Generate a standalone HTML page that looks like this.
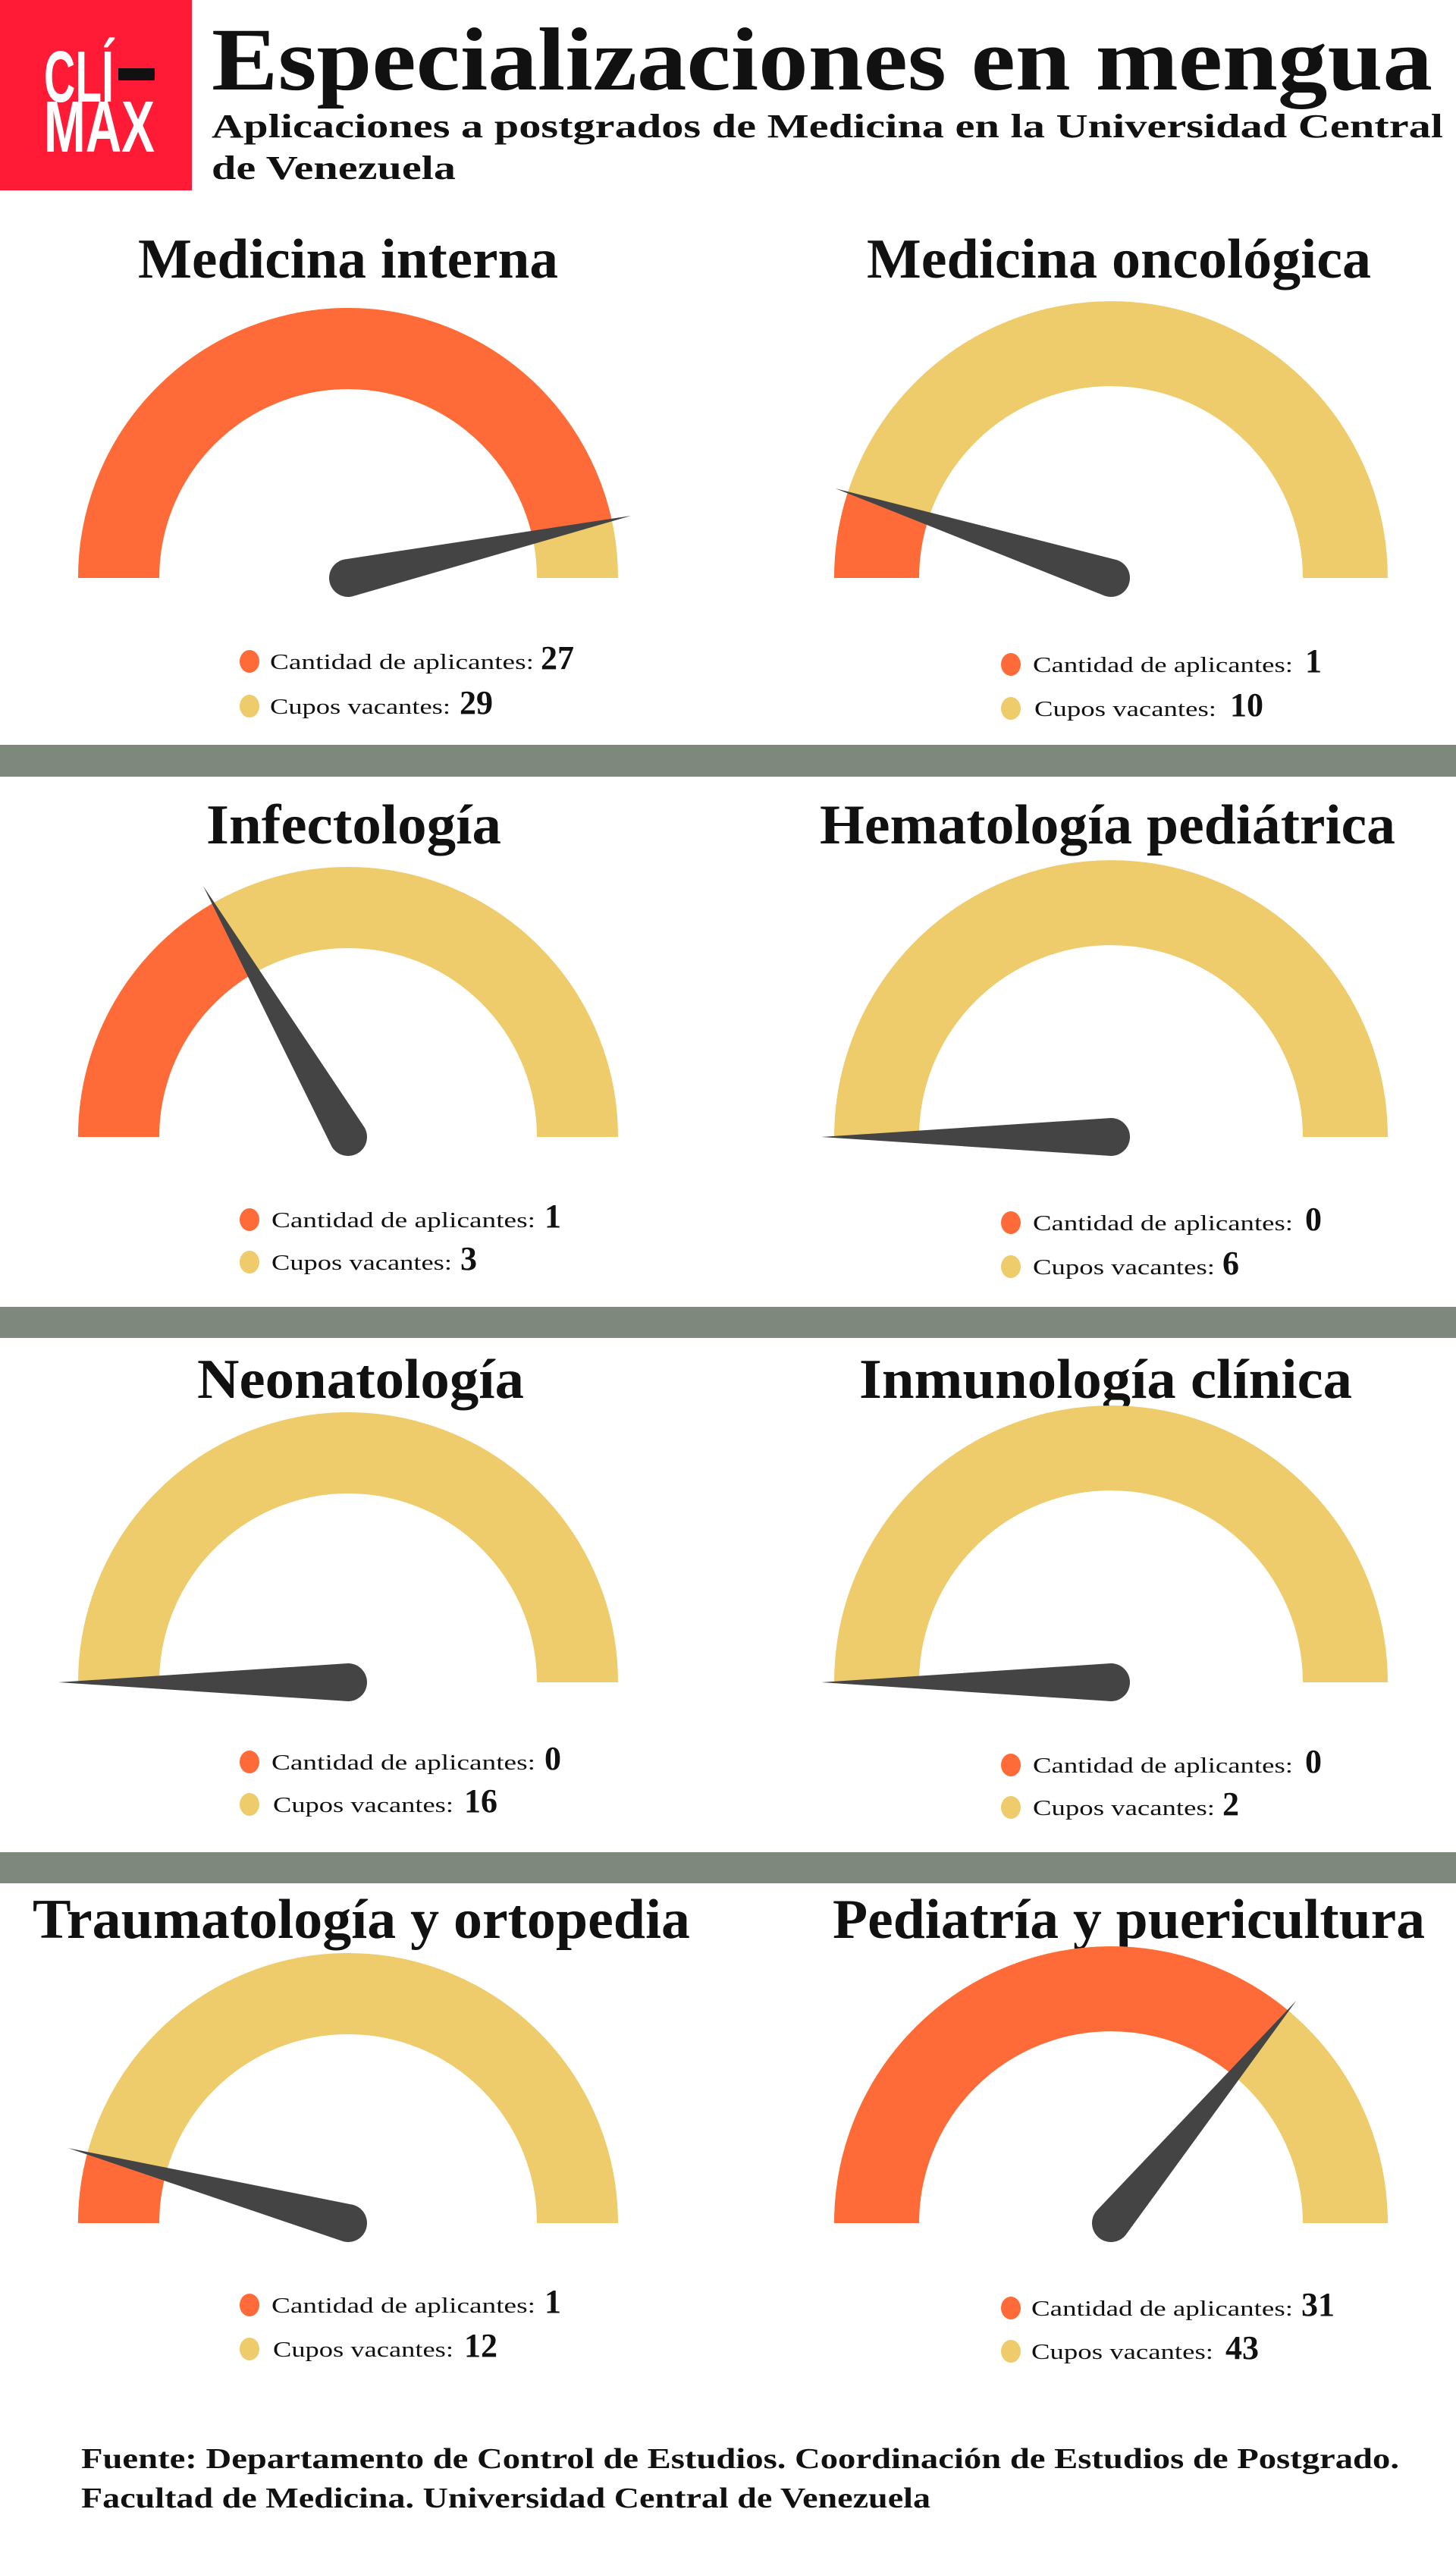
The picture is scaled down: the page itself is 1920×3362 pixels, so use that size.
<!DOCTYPE html>
<html><head><meta charset="utf-8"><style>
html,body{margin:0;padding:0;background:#fff;}
svg{display:block;}
text{font-family:"Liberation Serif",serif;fill:#111;}
.t{font-weight:bold;font-size:74px;}
.l{font-size:29px;}
.v{font-weight:bold;font-size:44px;}
</style></head><body>
<svg width="1920" height="3362" viewBox="0 0 1920 3362" xmlns="http://www.w3.org/2000/svg">
<rect width="1920" height="3362" fill="#fff"/>
<!-- logo -->
<rect x="0" y="0" width="253" height="251" fill="#FF1A35"/>
<text x="58" y="134" style="font-family:'Liberation Sans Narrow','Liberation Sans',sans-serif;font-weight:bold;font-size:96px;fill:#fff" textLength="92" lengthAdjust="spacingAndGlyphs">CLÍ</text>
<rect x="156" y="90" width="48" height="16" fill="#111"/>
<text x="58" y="200" style="font-family:'Liberation Sans Narrow','Liberation Sans',sans-serif;font-weight:bold;font-size:96px;fill:#fff" textLength="146" lengthAdjust="spacingAndGlyphs">MAX</text>
<!-- titles -->
<text x="279" y="118" style="font-weight:bold;font-size:118px" textLength="1610" lengthAdjust="spacingAndGlyphs">Especializaciones en mengua</text>
<text x="279" y="181" style="font-weight:bold;font-size:44px" textLength="1624" lengthAdjust="spacingAndGlyphs">Aplicaciones a postgrados de Medicina en la Universidad Central</text>
<text x="279" y="236" style="font-weight:bold;font-size:44px" textLength="322" lengthAdjust="spacingAndGlyphs">de Venezuela</text>
<!-- separators -->
<rect x="0" y="982" width="1920" height="42" fill="#7f887c"/>
<rect x="0" y="1723" width="1920" height="41" fill="#7f887c"/>
<rect x="0" y="2442" width="1920" height="41" fill="#7f887c"/>

<defs>
<path id="nd" d="M -382 0 L 0 -25 A 25 25 0 1 1 0 25 Z" fill="#444"/>
</defs>

<!-- Row 1 -->
<text class="t" x="182" y="366" textLength="554" lengthAdjust="spacingAndGlyphs">Medicina interna</text>
<path d="M 156.5 762 A 302.5 302.5 0 0 1 761.5 762" fill="none" stroke="#EECB6B" stroke-width="107"/>
<path d="M 156.5 762 A 302.5 302.5 0 0 1 761.5 762" fill="none" stroke="#FF6B38" stroke-width="107" pathLength="100" stroke-dasharray="93.1 1000"/>
<use href="#nd" transform="translate(459 762) rotate(167.6)"/>

<text class="t" x="1143" y="366" textLength="665" lengthAdjust="spacingAndGlyphs">Medicina oncológica</text>
<path d="M 1156 762 A 309 309 0 0 1 1774 762" fill="none" stroke="#EECB6B" stroke-width="112"/>
<path d="M 1156 762 A 309 309 0 0 1 1774 762" fill="none" stroke="#FF6B38" stroke-width="112" pathLength="100" stroke-dasharray="10 1000"/>
<use href="#nd" transform="translate(1465 762) rotate(18)"/>

<!-- Row 2 -->
<text class="t" x="272" y="1112" textLength="389" lengthAdjust="spacingAndGlyphs">Infectología</text>
<path d="M 156.5 1499 A 302.5 302.5 0 0 1 761.5 1499" fill="none" stroke="#EECB6B" stroke-width="107"/>
<path d="M 156.5 1499 A 302.5 302.5 0 0 1 761.5 1499" fill="none" stroke="#FF6B38" stroke-width="107" pathLength="100" stroke-dasharray="33.3 1000"/>
<use href="#nd" transform="translate(459 1499) rotate(60)"/>

<text class="t" x="1081" y="1112" textLength="759" lengthAdjust="spacingAndGlyphs">Hematología pediátrica</text>
<path d="M 1156 1499 A 309 309 0 0 1 1774 1499" fill="none" stroke="#EECB6B" stroke-width="112"/>
<use href="#nd" transform="translate(1465 1499) rotate(0)"/>

<!-- Row 3 -->
<text class="t" x="260" y="1843" textLength="431" lengthAdjust="spacingAndGlyphs">Neonatología</text>
<path d="M 156.5 2218 A 302.5 302.5 0 0 1 761.5 2218" fill="none" stroke="#EECB6B" stroke-width="107"/>
<use href="#nd" transform="translate(459 2218) rotate(0)"/>

<text class="t" x="1133" y="1843" textLength="650" lengthAdjust="spacingAndGlyphs">Inmunología clínica</text>
<path d="M 1156 2218 A 309 309 0 0 1 1774 2218" fill="none" stroke="#EECB6B" stroke-width="112"/>
<use href="#nd" transform="translate(1465 2218) rotate(0)"/>

<!-- Row 4 -->
<text class="t" x="43" y="2555" textLength="867" lengthAdjust="spacingAndGlyphs">Traumatología y ortopedia</text>
<path d="M 156.5 2931 A 302.5 302.5 0 0 1 761.5 2931" fill="none" stroke="#EECB6B" stroke-width="107"/>
<path d="M 156.5 2931 A 302.5 302.5 0 0 1 761.5 2931" fill="none" stroke="#FF6B38" stroke-width="107" pathLength="100" stroke-dasharray="8.33 1000"/>
<use href="#nd" transform="translate(459 2931) rotate(15)"/>

<text class="t" x="1098" y="2555" textLength="781" lengthAdjust="spacingAndGlyphs">Pediatría y puericultura</text>
<path d="M 1156 2931 A 309 309 0 0 1 1774 2931" fill="none" stroke="#EECB6B" stroke-width="112"/>
<path d="M 1156 2931 A 309 309 0 0 1 1774 2931" fill="none" stroke="#FF6B38" stroke-width="112" pathLength="100" stroke-dasharray="72.1 1000"/>
<use href="#nd" transform="translate(1465 2931) rotate(129.8)"/>

<!-- Legends -->
<g>
<ellipse cx="329" cy="872" rx="13" ry="15" fill="#FF6B38"/><text class="l" x="356" y="882" textLength="348" lengthAdjust="spacingAndGlyphs">Cantidad de aplicantes:</text><text class="v" x="713" y="882">27</text>
<ellipse cx="329" cy="931" rx="13" ry="15" fill="#EECB6B"/><text class="l" x="356" y="941" textLength="238" lengthAdjust="spacingAndGlyphs">Cupos vacantes:</text><text class="v" x="606" y="941">29</text>

<ellipse cx="1333" cy="876" rx="13" ry="15" fill="#FF6B38"/><text class="l" x="1362" y="886" textLength="343" lengthAdjust="spacingAndGlyphs">Cantidad de aplicantes:</text><text class="v" x="1721" y="886">1</text>
<ellipse cx="1333" cy="934" rx="13" ry="15" fill="#EECB6B"/><text class="l" x="1364" y="944" textLength="240" lengthAdjust="spacingAndGlyphs">Cupos vacantes:</text><text class="v" x="1622" y="944">10</text>

<ellipse cx="329" cy="1608" rx="13" ry="15" fill="#FF6B38"/><text class="l" x="358" y="1618" textLength="348" lengthAdjust="spacingAndGlyphs">Cantidad de aplicantes:</text><text class="v" x="718" y="1618">1</text>
<ellipse cx="329" cy="1664" rx="13" ry="15" fill="#EECB6B"/><text class="l" x="358" y="1674" textLength="238" lengthAdjust="spacingAndGlyphs">Cupos vacantes:</text><text class="v" x="607" y="1674">3</text>

<ellipse cx="1333" cy="1612" rx="13" ry="15" fill="#FF6B38"/><text class="l" x="1362" y="1622" textLength="343" lengthAdjust="spacingAndGlyphs">Cantidad de aplicantes:</text><text class="v" x="1721" y="1622">0</text>
<ellipse cx="1333" cy="1670" rx="13" ry="15" fill="#EECB6B"/><text class="l" x="1362" y="1680" textLength="240" lengthAdjust="spacingAndGlyphs">Cupos vacantes:</text><text class="v" x="1612" y="1680">6</text>

<ellipse cx="329" cy="2323" rx="13" ry="15" fill="#FF6B38"/><text class="l" x="358" y="2333" textLength="348" lengthAdjust="spacingAndGlyphs">Cantidad de aplicantes:</text><text class="v" x="718" y="2333">0</text>
<ellipse cx="329" cy="2379" rx="13" ry="15" fill="#EECB6B"/><text class="l" x="360" y="2389" textLength="238" lengthAdjust="spacingAndGlyphs">Cupos vacantes:</text><text class="v" x="612" y="2389">16</text>

<ellipse cx="1333" cy="2327" rx="13" ry="15" fill="#FF6B38"/><text class="l" x="1362" y="2337" textLength="343" lengthAdjust="spacingAndGlyphs">Cantidad de aplicantes:</text><text class="v" x="1721" y="2337">0</text>
<ellipse cx="1333" cy="2383" rx="13" ry="15" fill="#EECB6B"/><text class="l" x="1362" y="2393" textLength="240" lengthAdjust="spacingAndGlyphs">Cupos vacantes:</text><text class="v" x="1612" y="2393">2</text>

<ellipse cx="329" cy="3039" rx="13" ry="15" fill="#FF6B38"/><text class="l" x="358" y="3049" textLength="348" lengthAdjust="spacingAndGlyphs">Cantidad de aplicantes:</text><text class="v" x="718" y="3049">1</text>
<ellipse cx="329" cy="3097" rx="13" ry="15" fill="#EECB6B"/><text class="l" x="360" y="3107" textLength="238" lengthAdjust="spacingAndGlyphs">Cupos vacantes:</text><text class="v" x="612" y="3107">12</text>

<ellipse cx="1333" cy="3043" rx="13" ry="15" fill="#FF6B38"/><text class="l" x="1360" y="3053" textLength="345" lengthAdjust="spacingAndGlyphs">Cantidad de aplicantes:</text><text class="v" x="1716" y="3053">31</text>
<ellipse cx="1333" cy="3100" rx="13" ry="15" fill="#EECB6B"/><text class="l" x="1360" y="3110" textLength="240" lengthAdjust="spacingAndGlyphs">Cupos vacantes:</text><text class="v" x="1616" y="3110">43</text>
</g>

<!-- Footer -->
<text x="107" y="3254" style="font-weight:bold;font-size:38px" textLength="1738" lengthAdjust="spacingAndGlyphs">Fuente: Departamento de Control de Estudios. Coordinación de Estudios de Postgrado.</text>
<text x="107" y="3306" style="font-weight:bold;font-size:38px" textLength="1120" lengthAdjust="spacingAndGlyphs">Facultad de Medicina. Universidad Central de Venezuela</text>
</svg>
</body></html>
